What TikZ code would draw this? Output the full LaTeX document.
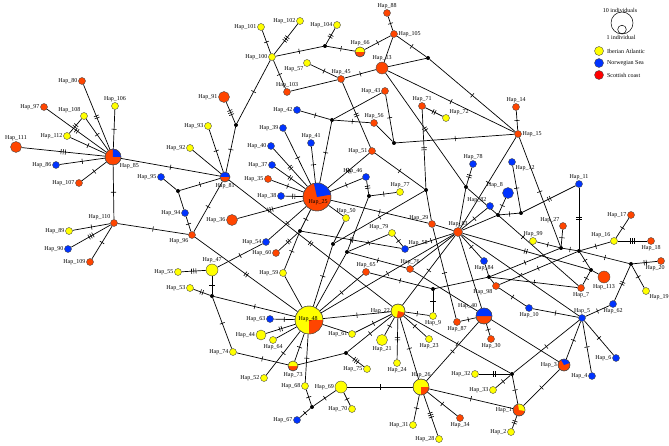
\documentclass[tikz,border=0pt]{standalone}
\usepackage{fontspec}
\setmainfont{Liberation Serif}
\usetikzlibrary{decorations.markings,backgrounds}
\definecolor{cy}{RGB}{255,255,0}
\definecolor{cb}{RGB}{0,51,255}
\definecolor{co}{RGB}{255,69,0}
\definecolor{cr}{RGB}{255,0,0}
\tikzset{
  hap/.style={circle, draw=black!70, line width=0.4pt, inner sep=0pt, minimum size=7pt},
  med/.style={circle, fill=black, inner sep=0pt, minimum size=4pt},
  every label/.style={font=\fontsize{6}{7}\selectfont, inner sep=0.8pt},
  lab/.style={font=\fontsize{6}{7}\selectfont, inner sep=0.8pt},
  link/.style={line width=0.7pt},
  tk/.style 2 args={postaction={decorate,decoration={markings,
    mark=at position #1 with {\foreach \k in {1,...,#2}{\draw[line width=0.6pt] ({(\k-(#2+1)/2)*2.2pt},-2.6pt) -- ++(0,5.2pt);}}}}},
  t1/.style={tk={0.5}{1}},
  t2/.style={tk={0.5}{2}},
  t3/.style={tk={0.5}{3}}
}
\newcommand{\hapwedge}[5]{%
  \fill[#3] (#1.center) -- ++(#4:#2) arc[start angle=#4, end angle=#5, radius=#2] -- cycle;
  \draw[black!70, line width=0.4pt] (#1.center) circle[radius=#2];}
\begin{document}
\begin{tikzpicture}[x=1pt, y=-1pt]
\useasboundingbox (0,0) rectangle (669,446);

% haplotypes, left cluster
\node[hap, fill=co, label=left:Hap\_80] (h80) at (82,81) {};
\node[hap, fill=cy, label=above:Hap\_106] (h106) at (115,106) {};
\node[hap, fill=co, label=left:Hap\_97] (h97) at (44,107) {};
\node[hap, fill=cy, label=above left:Hap\_108] (h108) at (84,116) {};
\node[hap, fill=cy, label=left:Hap\_112] (h112) at (67,136) {};
\node[hap, fill=co, minimum size=11pt, label=above:Hap\_111] (h111) at (16,147) {};
\node[hap, fill=co, minimum size=16pt, label=below right:Hap\_85] (h85) at (113,157) {};
\node[hap, fill=cb, label=left:Hap\_86] (h86) at (56,165) {};
\node[hap, fill=co, label=left:Hap\_107] (h107) at (79,183) {};
\node[hap, fill=cb, label=left:Hap\_95] (h95) at (161,177) {};
\node[hap, fill=co, label=above left:Hap\_110] (h110) at (114,223) {};
\node[hap, fill=cy, label=left:Hap\_89] (h89) at (69,231) {};
\node[hap, fill=cb, label=left:Hap\_90] (h90) at (68,249) {};
\node[hap, fill=co, label=left:Hap\_109] (h109) at (90,262) {};
\node[hap, fill=co, label=below left:Hap\_96] (h96) at (192,235) {};
\node[hap, fill=cb, label=left:Hap\_94] (h94) at (185,213) {};
\node[med] (j94) at (178,191) {};
\node[hap, fill=co, minimum size=10pt, label=below:Hap\_81] (h81) at (225,177) {};
\node[hap, fill=cy, label=left:Hap\_92] (h92) at (190,148) {};
\node[hap, fill=cy, label=left:Hap\_93] (h93) at (208,126) {};
\node[hap, fill=co, minimum size=11pt, label=left:Hap\_91] (h91) at (224,97) {};
\node[med] (j91) at (236,125) {};

% top
\node[hap, fill=cy, label=left:Hap\_100] (h100) at (272,57) {};
\node[hap, fill=cy, label=left:Hap\_101] (h101) at (261,27) {};
\node[hap, fill=cy, label=left:Hap\_102] (h102) at (300,21) {};
\node[hap, fill=cy, label=left:Hap\_104] (h104) at (337,25) {};
\node[med] (j104) at (325,46) {};
\node[hap, fill=co, label=above:Hap\_103] (h103) at (287,92) {};
\node[hap, fill=cy, label=below left:Hap\_57] (h57) at (307,63) {};
\node[hap, fill=co, label=above:Hap\_45] (h45) at (341,79) {};
\node[hap, fill=co, minimum size=10pt, label=above:Hap\_66] (h66) at (360,52) {};
\node[hap, fill=co, label=above:Hap\_88] (h88) at (387,13) {};
\node[hap, fill=co, label=right:Hap\_105] (h105) at (394,34) {};
\node[hap, fill=co, minimum size=12pt, label=above:Hap\_13] (h13) at (382,68) {};
\node[med] (j13) at (428,58) {};
\node[hap, fill=co, label=left:Hap\_43] (h43) at (385,91) {};
\node[hap, fill=co, label=above:Hap\_56] (h56) at (374,123) {};
\node[med] (j42) at (332,120) {};
\node[med] (j394) at (394,143) {};
\node[hap, fill=co, label=above:Hap\_71] (h71) at (422,106) {};
\node[hap, fill=cy, label=above right:Hap\_72] (h72) at (446,118) {};
\node[hap, fill=co, label=above:Hap\_14] (h14) at (516,107) {};
\node[hap, fill=co, label=right:Hap\_15] (h15) at (518,134) {};

% around Hap_25
\node[hap, fill=cb, label=left:Hap\_42] (h42) at (297,110) {};
\node[hap, fill=cb, label=left:Hap\_39] (h39) at (283,128) {};
\node[hap, fill=cb, label=left:Hap\_40] (h40) at (271,146) {};
\node[hap, fill=cb, label=above:Hap\_41] (h41) at (311,143) {};
\node[hap, fill=cb, label=left:Hap\_37] (h37) at (272,165) {};
\node[hap, fill=co, label=left:Hap\_35] (h35) at (268,179) {};
\node[hap, fill=cb, label=left:Hap\_38] (h38) at (281,196) {};
\node[hap, fill=co, minimum size=28pt] (h25) at (317,197) {};
\node[hap, fill=co, minimum size=11pt, label=left:Hap\_36] (h36) at (232,220) {};
\node[hap, fill=cb, label=left:Hap\_54] (h54) at (266,242) {};
\node[hap, fill=co, label=left:Hap\_60] (h60) at (276,253) {};
\node[med] (j60) at (300,231) {};
\node[hap, fill=cy, label=left:Hap\_59] (h59) at (283,273) {};
\node[hap, fill=cy, minimum size=12pt, label=above:Hap\_47] (h47) at (212,270) {};
\node[hap, fill=cy, label=left:Hap\_55] (h55) at (178,272) {};
\node[hap, fill=cy, label=left:Hap\_53] (h53) at (190,288) {};
\node[med] (j53) at (212,296) {};
\node[hap, fill=co, label=left:Hap\_51] (h51) at (372,151) {};
\node[hap, fill=cb, label=above left:Hap\_46] (h46) at (366,177) {};
\node[med] (j46) at (369,196) {};
\node[hap, fill=cy, label=above:Hap\_77] (h77) at (400,192) {};
\node[med] (j426) at (426,190) {};
\node[hap, fill=cy, label=above:Hap\_50] (h50) at (346,218) {};

% centre
\node[hap, fill=co, label=above left:Hap\_29] (h29) at (432,224) {};
\node[hap, fill=co, minimum size=9pt, label=above:Hap\_83] (h83) at (458,232) {};
\node[hap, fill=cb, label=above:Hap\_78] (h78) at (473,164) {};
\node[med] (j78) at (466,187) {};
\node[hap, fill=cb, label=above left:Hap\_82] (h82) at (490,206) {};
\node[hap, fill=cb, minimum size=11pt, label=above left:Hap\_8] (h8) at (508,193) {};
\node[med] (j8) at (498,215) {};
\node[med] (j12) at (521,213) {};
\node[hap, fill=cb, label=below right:Hap\_12] (h12) at (512,162) {};
\node[hap, fill=cb, label=above:Hap\_11] (h11) at (579,184) {};
\node[hap, fill=cy, label=above left:Hap\_79] (h79) at (392,233) {};
\node[hap, fill=cb, label=above right:Hap\_58] (h58) at (405,249) {};
\node[med] (j347) at (347,252) {};
\node[med] (j333) at (333,244) {};
\node[hap, fill=co, label=above:Hap\_65] (h65) at (366,272) {};
\node[hap, fill=co, label=above:Hap\_76] (h76) at (410,269) {};
\node[med] (j433) at (433,289) {};
\node[hap, fill=cb, label=below:Hap\_84] (h84) at (484,261) {};
\node[med] (j489) at (489,277) {};
\node[hap, fill=co, label=below left:Hap\_98] (h98) at (496,286) {};

% right cluster
\node[hap, fill=co, label=above left:Hap\_27] (h27) at (563,226) {};
\node[hap, fill=cy, label=above:Hap\_99] (h99) at (533,241) {};
\node[med] (j27) at (561,248) {};
\node[med] (j11) at (579,251) {};
\node[hap, fill=cy, label=above left:Hap\_16] (h16) at (614,241) {};
\node[hap, fill=co, label=left:Hap\_17] (h17) at (631,215) {};
\node[hap, fill=co, label=below:Hap\_18] (h18) at (651,241) {};
\node[med] (j20) at (631,264) {};
\node[hap, fill=co, label={[xshift=-6pt]below:Hap\_20}] (h20) at (661,261) {};
\node[med] (j113) at (591,270) {};
\node[hap, fill=co, minimum size=12pt, label=below:Hap\_113] (h113) at (604,277) {};
\node[hap, fill=co, label=below:Hap\_7] (h7) at (581,288) {};
\node[hap, fill=cy, label=below right:Hap\_19] (h19) at (646,291) {};
\node[hap, fill=cb, label=below:Hap\_62] (h62) at (613,304) {};
\node[hap, fill=cb, label=below:Hap\_10] (h10) at (529,308) {};
\node[hap, fill=cb, label=above:Hap\_5] (h5) at (582,318) {};
\node[hap, fill=cb, label=left:Hap\_6] (h6) at (616,358) {};
\node[hap, fill=cb, label=left:Hap\_4] (h4) at (592,376) {};
\node[hap, fill=co, minimum size=12pt, label=left:Hap\_3] (h3) at (564,365) {};
\node[med] (j1) at (512,374) {};
\node[hap, fill=co, minimum size=12pt, label=left:Hap\_1] (h1) at (519,410) {};
\node[hap, fill=cy, label=left:Hap\_2] (h2) at (511,432) {};
\node[hap, fill=cy, label=left:Hap\_32] (h32) at (475,374) {};
\node[hap, fill=cy, label=left:Hap\_33] (h33) at (493,390) {};
\node[hap, fill=co, minimum size=16pt, label=above left:Hap\_40] (h40b) at (484,316) {};
\node[hap, fill=co, label=below:Hap\_87] (h87) at (457,322) {};
\node[hap, fill=co, label=below:Hap\_30] (h30) at (491,339) {};

% lower half
\node[hap, fill=cy, minimum size=14pt, label=left:Hap\_22] (h22) at (398,311) {};
\node[hap, fill=cy, label=below:Hap\_9] (h9) at (433,316) {};
\node[hap, fill=cy, label=left:Hap\_61] (h61) at (352,334) {};
\node[hap, fill=cy, minimum size=11pt, label=below:Hap\_21] (h21) at (382,340) {};
\node[hap, fill=cy, label=below:Hap\_23] (h23) at (429,339) {};
\node[hap, fill=cy, label=below:Hap\_24] (h24) at (397,363) {};
\node[hap, fill=cy, minimum size=16pt, label=above:Hap\_26] (h26) at (421,387) {};
\node[hap, fill=cy, label=left:Hap\_75] (h75) at (367,369) {};
\node[med] (j75) at (346,353) {};
\node[hap, fill=cy, minimum size=12pt, label=left:Hap\_69] (h69) at (341,387) {};
\node[hap, fill=cy, label=left:Hap\_70] (h70) at (352,409) {};
\node[hap, fill=cy, label=left:Hap\_31] (h31) at (413,425) {};
\node[hap, fill=cy, label=left:Hap\_28] (h28) at (439,439) {};
\node[hap, fill=co, label=below:Hap\_34] (h34) at (460,418) {};
\node[hap, fill=cy, minimum size=28pt] (h48) at (309,320) {};
\node[hap, fill=cb, label=left:Hap\_63] (h63) at (270,319) {};
\node[hap, fill=cy, minimum size=10pt, label=left:Hap\_44] (h44) at (261,335) {};
\node[hap, fill=cy, label=below:Hap\_64] (h64) at (273,340) {};
\node[hap, fill=co, minimum size=10pt, label=below:Hap\_73] (h73) at (293,366) {};
\node[hap, fill=cy, label=left:Hap\_52] (h52) at (264,378) {};
\node[hap, fill=cy, label=left:Hap\_74] (h74) at (233,352) {};
\node[hap, fill=cy, label=left:Hap\_68] (h68) at (305,386) {};
\node[med] (j67) at (312,407) {};
\node[hap, fill=cb, label=left:Hap\_67] (h67) at (297,420) {};

% pie sectors
\hapwedge{h85}{8pt}{cb}{0}{92}
\hapwedge{h81}{5pt}{cb}{0}{180}
\hapwedge{h66}{5pt}{cy}{0}{180}
\hapwedge{h73}{5pt}{cy}{0}{180}
\hapwedge{h25}{14pt}{cb}{10}{103}
\hapwedge{h48}{14pt}{co}{-90}{0}
\hapwedge{h22}{7pt}{co}{-100}{-15}
\hapwedge{h26}{8pt}{co}{-90}{0}
\hapwedge{h40b}{8pt}{cb}{0}{180}
\hapwedge{h3}{6pt}{cb}{20}{120}
\hapwedge{h1}{6pt}{cy}{-10}{100}
\node[lab] at (318,202) {Hap\_25};
\node[lab] at (308,319) {Hap\_48};

% mutational steps
\begin{scope}[on background layer]
\draw[link, t2] (h85) -- (h80);
\draw[link, t1] (h85) -- (h106);
\draw[link, t2] (h85) -- (h97);
\draw[link, t1] (h85) -- (h108);
\draw[link, t2] (h108) -- (h112);
\draw[link, t1] (h85) -- (h112);
\draw[link, t3] (h85) -- (h111);
\draw[link, t1] (h85) -- (h86);
\draw[link, t1] (h85) -- (h107);
\draw[link, t1] (h85) -- (h81);
\draw[link, t1] (h85) -- (h110);
\draw[link, t1] (h110) -- (h89);
\draw[link, t3] (h110) -- (h90);
\draw[link, t1] (h110) -- (h109);
\draw[link, t1] (h110) -- (h96);
\draw[link, t1] (h96) -- (h94);
\draw[link] (h94) -- (j94);
\draw[link] (j94) -- (h95);
\draw[link, t1] (j94) -- (h81);
\draw[link, t1] (h96) -- (h81);
\draw[link, t2] (h96) -- (h48);
\draw[link, t1] (h81) -- (h93);
\draw[link] (h81) -- (h92);
\draw[link, t1] (h81) -- (j91);
\draw[link, t3] (j91) -- (h91);
\draw[link, t1] (j91) -- (h100);
\draw[link, t2] (h81) -- (h22);
\draw[link, t1] (h100) -- (h101);
\draw[link, t3] (h100) -- (h102);
\draw[link, t1] (h100) -- (j104);
\draw[link, t2] (j104) -- (h104);
\draw[link, t1] (j104) -- (h66);
\draw[link, t1] (h66) -- (h105);
\draw[link, t1] (h105) -- (h88);
\draw[link, t1] (h100) -- (h103);
\draw[link] (h103) -- (h45);
\draw[link, t1] (h57) -- (h45);
\draw[link, t1] (h45) -- (h13);
\draw[link] (h13) -- (h105);
\draw[link, t1] (h105) -- (j13);
\draw[link] (h13) -- (j13);
\draw[link, t1] (h13) -- (h15);
\draw[link, t1] (j13) -- (h15);
\draw[link, t2] (h13) -- (j78);
\draw[link, t2] (h45) -- (h51);
\draw[link, t2] (h51) -- (h25);
\draw[link, t1] (h51) -- (j426);
\draw[link, t1] (h43) -- (j394);
\draw[link] (h43) -- (j42);
\draw[link, t1] (j42) -- (h56);
\draw[link] (h56) -- (j394);
\draw[link, t1] (j394) -- (h15);
\draw[link, t1] (j42) -- (h42);
\draw[link, t1] (j42) -- (h25);
\draw[link, t2] (h71) -- (h72);
\draw[link, t2] (h71) -- (j426);
\draw[link] (j426) -- (h29);
\draw[link, t1] (j426) -- (j333);
\draw[link, t1] (h14) -- (h15);
\draw[link, t1] (h15) -- (j27);
\draw[link, t1] (h15) -- (h83);
\draw[link, t1] (h25) -- (h39);
\draw[link, t2] (h25) -- (h40);
\draw[link, t1] (h25) -- (h41);
\draw[link, t2] (h25) -- (h37);
\draw[link, t1] (h25) -- (h35);
\draw[link, t2] (h25) -- (h38);
\draw[link, t3] (h25) -- (h36);
\draw[link, t1] (h25) -- (h54);
\draw[link, t1] (h25) -- (j60);
\draw[link, t1] (h25) -- (h46);
\draw[link, t1] (h25) -- (h29);
\draw[link] (h25) -- (h50);
\draw[link, t1] (h54) -- (h47);
\draw[link, t2] (h60) -- (j60);
\draw[link, t1] (j60) -- (h59);
\draw[link, t2] (j60) -- (h58);
\draw[link] (h59) -- (h48);
\draw[link, t2] (h46) -- (j46);
\draw[link, t1] (j46) -- (h77);
\draw[link] (j46) -- (j347);
\draw[link, t1] (j347) -- (h79);
\draw[link, t1] (j347) -- (h76);
\draw[link] (j347) -- (h48);
\draw[link, t1] (j333) -- (h48);
\draw[link] (j333) -- (h50);
\draw[link, t1] (h79) -- (h58);
\draw[link, t1] (h58) -- (h83);
\draw[link] (h29) -- (h83);
\draw[link, t1] (h29) -- (h87);
\draw[link, t2] (h78) -- (j78);
\draw[link] (j78) -- (h83);
\draw[link, t1] (j78) -- (h7);
\draw[link, t1] (h8) -- (j8);
\draw[link, t1] (h82) -- (h83);
\draw[link] (j8) -- (h83);
\draw[link, t1] (j8) -- (j12);
\draw[link, t1] (j12) -- (h12);
\draw[link, t2] (j12) -- (h11);
\draw[link, t2] (h11) -- (j11);
\draw[link, t1] (h83) -- (h84);
\draw[link, t1] (h83) -- (h48);
\draw[link] (h83) -- (h76);
\draw[link, t1] (h83) -- (h22);
\draw[link] (h83) -- (h40b);
\draw[link, t1] (h83) -- (h5);
\draw[link, t2] (h83) -- (j113);
\draw[link, t1] (h65) -- (h48);
\draw[link, t1] (h65) -- (j433);
\draw[link, t1] (j433) -- (h9);
\draw[link] (j433) -- (j489);
\draw[link] (j489) -- (h84);
\draw[link] (j489) -- (h98);
\draw[link, t1] (j489) -- (h7);
\draw[link, t1] (j27) -- (j489);
\draw[link, t1] (h27) -- (j27);
\draw[link, t1] (h99) -- (j27);
\draw[link, t1] (j27) -- (j11);
\draw[link, t1] (j11) -- (h16);
\draw[link, t1] (h16) -- (h17);
\draw[link, t3] (h16) -- (h18);
\draw[link, t1] (j11) -- (j20);
\draw[link, t2] (j20) -- (h20);
\draw[link, t1] (j20) -- (h19);
\draw[link, t2] (j20) -- (h62);
\draw[link, t1] (j11) -- (j113);
\draw[link] (j113) -- (h113);
\draw[link, t1] (j113) -- (h7);
\draw[link, t1] (j11) -- (h98);
\draw[link, t1] (h62) -- (h5);
\draw[link, t1] (h10) -- (h5);
\draw[link, t1] (h98) -- (h10);
\draw[link, t1] (h5) -- (h6);
\draw[link, t1] (h5) -- (h4);
\draw[link, t1] (h5) -- (h3);
\draw[link, t1] (h3) -- (h1);
\draw[link, t2] (h1) -- (h2);
\draw[link, t1] (j1) -- (h1);
\draw[link, t1] (j1) -- (h5);
\draw[link, t2] (j1) -- (h32);
\draw[link, t1] (j1) -- (h33);
\draw[link, t1] (h22) -- (j1);
\draw[link, t1] (h76) -- (h3);
\draw[link, t1] (h40b) -- (h87);
\draw[link, t1] (h40b) -- (h30);
\draw[link, t1] (h40b) -- (h26);
\draw[link, t1] (h22) -- (h48);
\draw[link, t1] (h22) -- (h61);
\draw[link, t1] (h22) -- (h21);
\draw[link, t2] (h22) -- (h24);
\draw[link, t1] (h22) -- (h26);
\draw[link, t1] (h22) -- (h9);
\draw[link, t1] (h22) -- (h23);
\draw[link, t1] (h22) -- (j75);
\draw[link, t3] (j75) -- (h75);
\draw[link] (j75) -- (h73);
\draw[link, t1] (h26) -- (h69);
\draw[link, t1] (h26) -- (h31);
\draw[link, t3] (h26) -- (h28);
\draw[link, t1] (h26) -- (h34);
\draw[link, t1] (h26) -- (h1);
\draw[link, t3] (h47) -- (h55);
\draw[link, t1] (h47) -- (j53);
\draw[link, t2] (j53) -- (h53);
\draw[link, t1] (j53) -- (h48);
\draw[link, t1] (j53) -- (h74);
\draw[link, t1] (h74) -- (h73);
\draw[link, t1] (h48) -- (h63);
\draw[link, t2] (h48) -- (h44);
\draw[link] (h48) -- (h64);
\draw[link, t1] (h48) -- (h73);
\draw[link, t1] (h48) -- (h52);
\draw[link, t1] (h48) -- (h68);
\draw[link, t1] (h68) -- (j67);
\draw[link, t1] (j67) -- (h67);
\draw[link, t1] (j67) -- (h69);
\draw[link, t1] (h69) -- (h70);
\draw[link] (h48) -- (h61);
\end{scope}

% legend
\node[lab] (l10) at (620,10) {10 individuals};
\draw[line width=0.5pt] (622,23) circle[radius=11pt];
\draw[line width=0.5pt] (622,29.5) circle[radius=4.3pt];
\node[lab] (l1) at (621,37) {1 individual};
\node[hap, fill=cy, minimum size=9pt] (ky) at (599,51) {};
\node[hap, fill=cb, minimum size=9pt] (kb) at (599,63) {};
\node[hap, fill=cr, minimum size=9pt] (kr) at (599,75) {};
\node[lab, anchor=west] at (606,51) {Iberian Atlantic};
\node[lab, anchor=west] at (606,63) {Norwegian Sea};
\node[lab, anchor=west] at (606,75) {Scottish coast};
\end{tikzpicture}
\end{document}
